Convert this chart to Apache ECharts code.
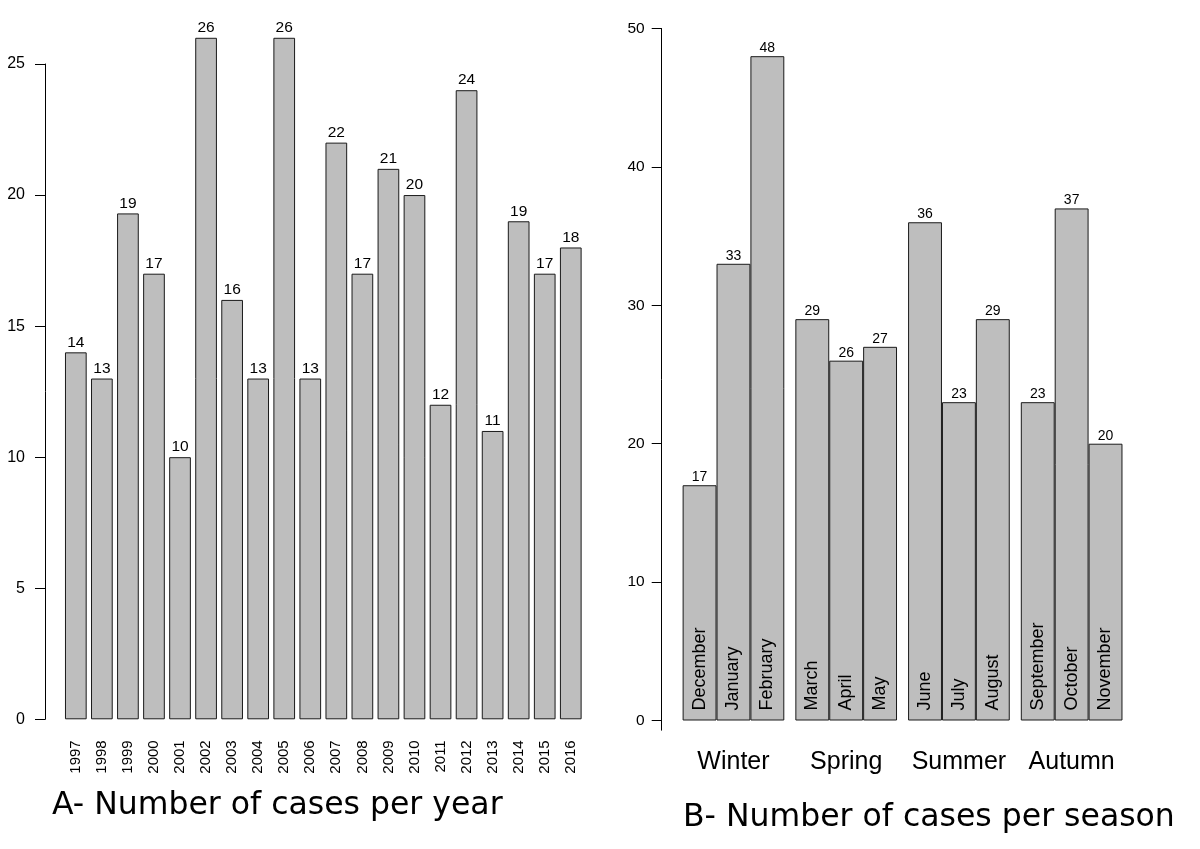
<!DOCTYPE html>
<html>
<head>
<meta charset="utf-8">
<script src="https://cdn.jsdelivr.net/npm/echarts@6/dist/echarts.min.js"></script>
<style>
html,body{margin:0;padding:0;background:#fff;}
#chart{width:1200px;height:849px;}
</style>
</head>
<body>
<div id="chart"></div>
<script>
// ---- data ----
const years = ['1997','1998','1999','2000','2001','2002','2003','2004','2005','2006','2007','2008','2009','2010','2011','2012','2013','2014','2015','2016'];
const yearCases = [14,13,19.3,17,10,26,16,13,26,13,22,17,21,20,12,24,11,19,17,18];
const seasons = ['Winter','Spring','Summer','Autumn'];
const months = ['December','January','February','March','April','May','June','July','August','September','October','November'];
const monthCases = [17,33,48,29,26,27,36,23,29,23,37,20];
const yTicksA = [0,5,10,15,20,25];
const yTicksB = [0,10,20,30,40,50];

const FONT = 'Liberation Sans, Arial, sans-serif';
const barStyle = {color:'#bebebe', borderColor:'#1a1a1a', borderWidth:1};

const chart = echarts.init(document.getElementById('chart'));

const series = [];
series.push({
  type:'bar', xAxisIndex:0, yAxisIndex:0, data: yearCases,
  barCategoryGap:'16.7%', clip:false, itemStyle: barStyle, silent:true,
  label:{show:true, position:'top', distance:2, fontSize:15.5, fontFamily:FONT, color:'#000',
    formatter: p => String(Math.round(p.value))}
});
for (let k = 0; k < 3; k++) {
  const d = seasons.map((_, i) => monthCases[i*3+k]);
  series.push({
    type:'bar', xAxisIndex:1, yAxisIndex:1, data:d,
    barGap:'0%', barCategoryGap:'9.8%', itemStyle: barStyle, silent:true,
    label:{show:true, position:'insideBottom', rotate:90, align:'left', verticalAlign:'middle',
      distance:10, fontSize:18, fontFamily:FONT, color:'#000',
      formatter: p => months[p.dataIndex*3+k]}
  });
}
for (let k = 0; k < 3; k++) {
  const d = seasons.map((_, i) => monthCases[i*3+k]);
  series.push({
    type:'bar', xAxisIndex:2, yAxisIndex:1, data:d,
    barGap:'0%', barCategoryGap:'9.8%', silent:true,
    itemStyle:{color:'rgba(0,0,0,0)', borderWidth:0},
    label:{show:true, position:'top', distance:1, fontSize:14, fontFamily:FONT, color:'#000'}
  });
}

const option = {
  backgroundColor:'#fff',
  animation:false,
  title:[
    {text:'A- Number of cases per year', left:47, top:785,
     textStyle:{fontFamily:'DejaVu Sans', fontSize:31.5, fontWeight:'normal', color:'#000'}},
    {text:'B- Number of cases per season', left:678, top:797,
     textStyle:{fontFamily:'DejaVu Sans', fontSize:31.5, fontWeight:'normal', color:'#000'}}
  ],
  grid:[
    {left:62.8, width:521, top:64, height:655.3},
    {left:677.1, width:450.9, top:28.5, height:701.7}
  ],
  xAxis:[
    {gridIndex:0, type:'category', data:years,
     axisLine:{show:false}, axisTick:{show:false},
     axisLabel:{rotate:90, margin:21, fontSize:15, fontFamily:FONT, color:'#000', interval:0}},
    {gridIndex:1, type:'category', data:seasons,
     axisLine:{show:false, onZero:false}, axisTick:{show:false},
     axisLabel:{margin:19, fontSize:25, fontFamily:FONT, color:'#000', interval:0}},
    {gridIndex:1, type:'category', data:seasons, show:false}
  ],
  yAxis:[
    {gridIndex:0, type:'value', min:0, max:25, interval:5, offset:17.8,
     axisLine:{show:true, lineStyle:{color:'#000', width:1}},
     axisTick:{show:true, length:10, lineStyle:{color:'#000'}},
     axisLabel:{margin:20, fontSize:16, fontFamily:FONT, color:'#000'},
     splitLine:{show:false}},
    {gridIndex:1, type:'value', min:-0.7, max:50, offset:15.4,
     axisLine:{show:true, lineStyle:{color:'#000', width:1}},
     axisTick:{show:true, length:10, lineStyle:{color:'#000'}, customValues:yTicksB},
     axisLabel:{margin:17, fontSize:15.5, fontFamily:FONT, color:'#000', customValues:yTicksB},
     splitLine:{show:false}}
  ],
  series: series
};
chart.setOption(option);
</script>
</body>
</html>
